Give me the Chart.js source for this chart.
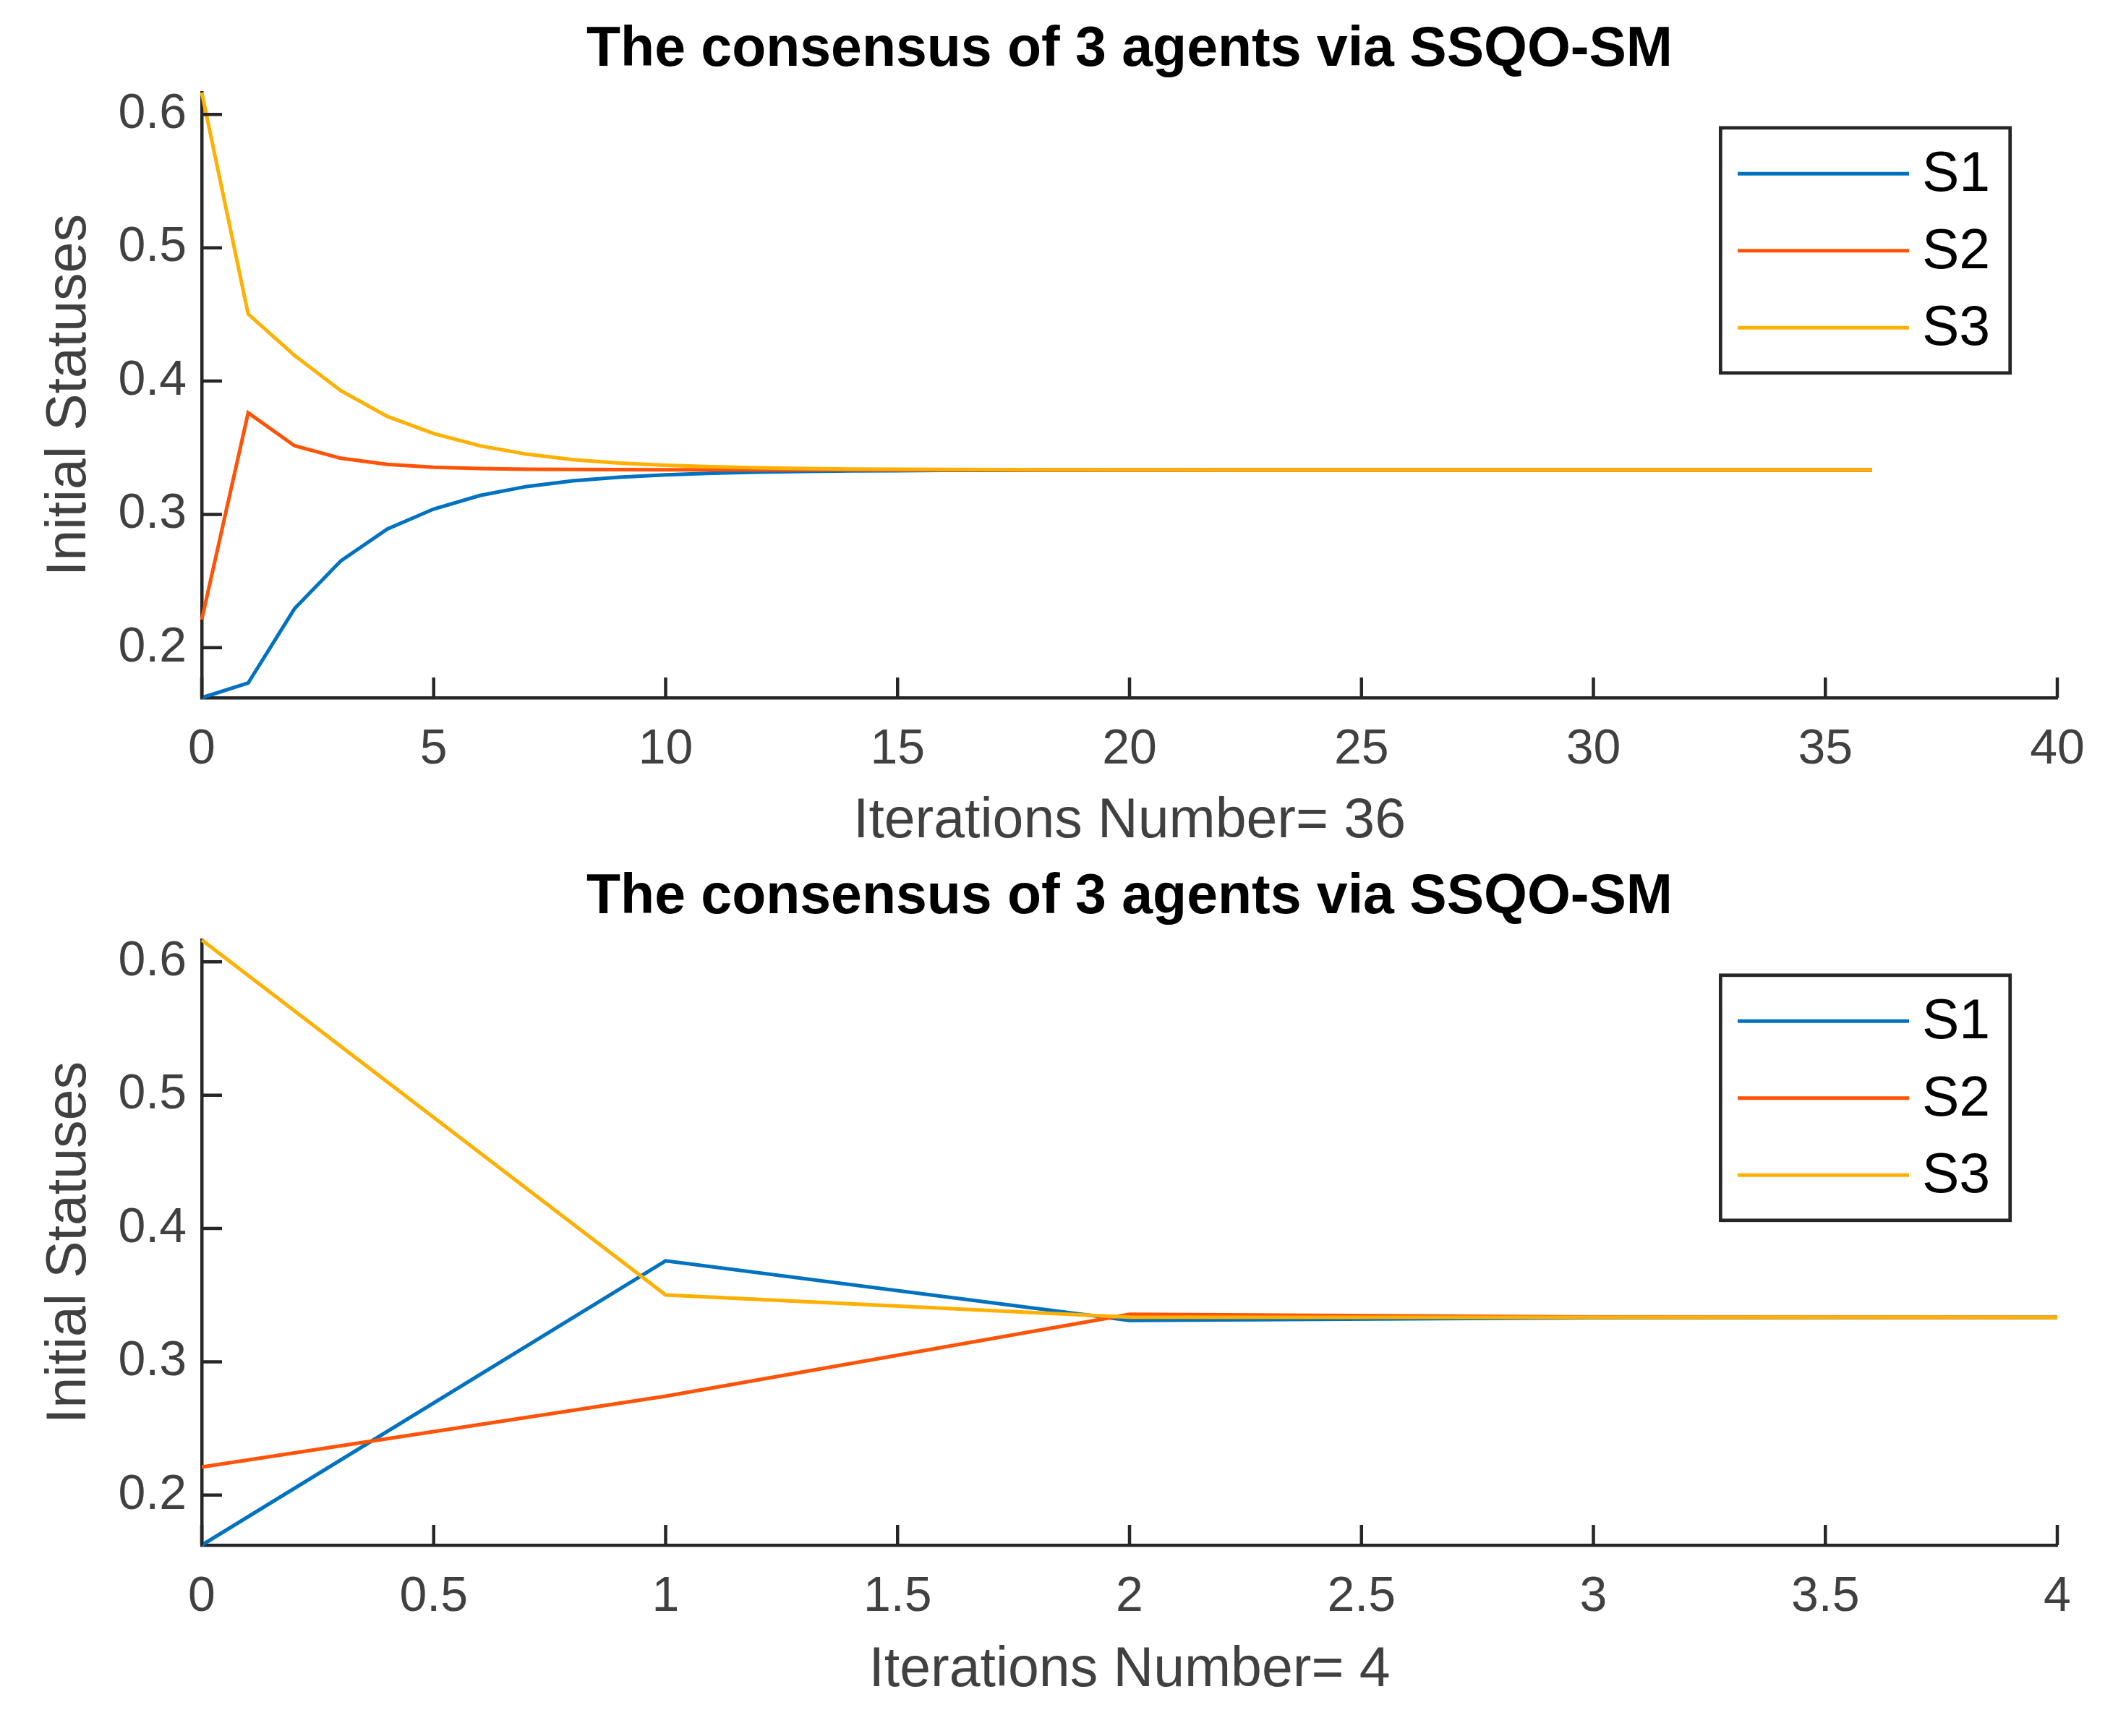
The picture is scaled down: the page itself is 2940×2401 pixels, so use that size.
<!DOCTYPE html>
<html>
<head>
<meta charset="utf-8">
<script src="https://cdn.jsdelivr.net/npm/chart.js@4.4.0/dist/chart.umd.min.js"></script>
<style>
  body { margin: 0; background: #fff; width: 2940px; overflow: hidden; }
  canvas { display: block; }
</style>
</head>
<body>
<canvas id="topChart" width="2940" height="1200"></canvas>
<canvas id="bottomChart" width="2940" height="1201"></canvas>
<script>
// values
const seriesNames = ["S1", "S2", "S3"];

const iterTop = [0, 1, 2, 3, 4, 5, 6, 7, 8, 9, 10, 11, 12, 13, 14, 15, 16, 17, 18,
  19, 20, 21, 22, 23, 24, 25, 26, 27, 28, 29, 30, 31, 32, 33, 34, 35, 36];
const s1Top = [0.1625, 0.1735, 0.2293, 0.2652, 0.2890, 0.3040, 0.3142, 0.3209, 0.3252, 0.3279,
  0.3297, 0.3309, 0.3317, 0.3322, 0.3326, 0.3328, 0.3330, 0.3331, 0.3332, 0.3332,
  0.3333, 0.3333, 0.3333, 0.3333, 0.3333, 0.3333, 0.3333, 0.3333, 0.3333, 0.3333,
  0.3333, 0.3333, 0.3333, 0.3333, 0.3333, 0.3333, 0.3333];
const s2Top = [0.2211, 0.3762, 0.3515, 0.3421, 0.3375, 0.3354, 0.3344, 0.3339, 0.3337, 0.3336,
  0.3335, 0.3334, 0.3334, 0.3334, 0.3334, 0.3333, 0.3333, 0.3333, 0.3333, 0.3333,
  0.3333, 0.3333, 0.3333, 0.3333, 0.3333, 0.3333, 0.3333, 0.3333, 0.3333, 0.3333,
  0.3333, 0.3333, 0.3333, 0.3333, 0.3333, 0.3333, 0.3333];
const s3Top = [0.6164, 0.4503, 0.4192, 0.3927, 0.3735, 0.3606, 0.3514, 0.3452, 0.3411, 0.3385,
  0.3368, 0.3357, 0.3349, 0.3344, 0.3340, 0.3339, 0.3337, 0.3336, 0.3335, 0.3335,
  0.3334, 0.3334, 0.3333, 0.3333, 0.3333, 0.3333, 0.3333, 0.3333, 0.3333, 0.3333,
  0.3333, 0.3333, 0.3333, 0.3333, 0.3333, 0.3333, 0.3333];

const iterBottom = [0, 1, 2, 3, 4];
const s1Bottom = [0.1625, 0.3757, 0.3310, 0.3331, 0.3333];
const s2Bottom = [0.2211, 0.2742, 0.3356, 0.3336, 0.3333];
const s3Bottom = [0.6164, 0.3501, 0.3334, 0.3333, 0.3333];

const yTicks = [0.2, 0.3, 0.4, 0.5, 0.6];
const xTicksTop = [0, 5, 10, 15, 20, 25, 30, 35, 40];
const xTicksBottom = [0, 0.5, 1, 1.5, 2, 2.5, 3, 3.5, 4];
const yMin = 0.1625, yMax = 0.6164;

const colors = ["#0072C0", "#FF5408", "#FFB000"];
const axisColor = "#262626";
const textColor = "#404040";
const fontFamily = "'Liberation Sans', Arial, Helvetica, sans-serif";

Chart.defaults.font.family = fontFamily;

function pairs(xs, ys) {
  return xs.map((x, i) => ({x: x, y: ys[i]}));
}

// centre the title over the plot area, like MATLAB does
const titleOverPlot = {
  id: 'titleOverPlot',
  afterLayout(chart) {
    const t = chart.titleBlock;
    if (t) {
      t.left = chart.chartArea.left;
      t.right = chart.chartArea.right;
      t.width = t.right - t.left;
    }
  }
};

// MATLAB style ticks pointing into the plot
const innerTicks = {
  id: 'innerTicks',
  afterDatasetsDraw(chart) {
    const {ctx, chartArea: a, scales: {x, y}} = chart;
    const len = 28;
    ctx.save();
    ctx.strokeStyle = axisColor;
    ctx.lineWidth = 4.5;
    ctx.beginPath();
    x.ticks.forEach(t => {
      const px = x.getPixelForValue(t.value);
      ctx.moveTo(px, a.bottom);
      ctx.lineTo(px, a.bottom - len);
    });
    y.ticks.forEach(t => {
      const py = y.getPixelForValue(t.value);
      ctx.moveTo(a.left, py);
      ctx.lineTo(a.left + len, py);
    });
    ctx.stroke();
    ctx.restore();
  }
};

// boxed legend in the upper right corner
const boxLegend = {
  id: 'boxLegend',
  afterDraw(chart) {
    const {ctx, chartArea: a} = chart;
    const left = a.right - 465.7, top = a.top + 48.8;
    const w = 400.4, h = 339;
    ctx.save();
    ctx.fillStyle = '#fff';
    ctx.fillRect(left, top, w, h);
    ctx.strokeStyle = axisColor;
    ctx.lineWidth = 4.7;
    ctx.strokeRect(left, top, w, h);
    ctx.font = '77px ' + fontFamily;
    ctx.textBaseline = 'middle';
    ctx.textAlign = 'left';
    chart.data.datasets.forEach((ds, i) => {
      const yy = top + 63.4 + i * 106.5;
      ctx.strokeStyle = ds.borderColor;
      ctx.lineWidth = 5;
      ctx.beginPath();
      ctx.moveTo(left + 23.7, yy);
      ctx.lineTo(left + 260.7, yy);
      ctx.stroke();
      ctx.fillStyle = '#000';
      ctx.fillText(ds.label, left + 278.7, yy + 3);
    });
    ctx.restore();
  }
};

function makeChart(canvasId, xs, s1, s2, s3, xTicks, xMax, xLabel, titlePad, xHeight, xTitlePad) {
  const allSeries = [s1, s2, s3];
  return new Chart(document.getElementById(canvasId), {
    type: 'line',
    data: {
      datasets: allSeries.map((s, i) => ({
        label: seriesNames[i],
        data: pairs(xs, s),
        borderColor: colors[i],
        backgroundColor: colors[i],
        borderWidth: 5,
        pointRadius: 0,
        tension: 0,
        clip: false,
        order: 2 - i
      }))
    },
    options: {
      responsive: false,
      devicePixelRatio: 1,
      animation: false,
      layout: {padding: {left: 0, right: 95, top: 0, bottom: 0}},
      plugins: {
        legend: {display: false},
        tooltip: {enabled: false},
        title: {
          display: true,
          text: 'The consensus of 3 agents via SSQO-SM',
          color: '#000',
          font: {size: 77, weight: 'bold', lineHeight: 1},
          padding: titlePad
        }
      },
      scales: {
        x: {
          type: 'linear',
          min: 0,
          max: xMax,
          afterBuildTicks: s => { s.ticks = xTicks.map(v => ({value: v})); },
          afterFit: s => { s.height = xHeight; },
          grid: {display: false, drawTicks: false},
          border: {display: true, color: axisColor, width: 4.5},
          ticks: {
            color: textColor,
            font: {size: 68, lineHeight: 1.2},
            padding: 31,
            maxRotation: 0,
            autoSkip: false,
            callback: v => String(v)
          },
          title: {
            display: true,
            text: xLabel,
            color: textColor,
            font: {size: 77, lineHeight: 1.2},
            padding: {top: 0, bottom: xTitlePad}
          }
        },
        y: {
          type: 'linear',
          min: yMin,
          max: yMax,
          afterBuildTicks: s => { s.ticks = yTicks.map(v => ({value: v})); },
          afterFit: s => { s.width = 279; },
          grid: {display: false, drawTicks: false},
          border: {display: true, color: axisColor, width: 4.5},
          ticks: {
            color: textColor,
            font: {size: 68, lineHeight: 1.2},
            padding: 21,
            autoSkip: false,
            callback: v => v.toFixed(1)
          },
          title: {
            display: true,
            text: 'Initial Statuses',
            color: textColor,
            font: {size: 77, lineHeight: 1.2},
            padding: {top: 51, bottom: 0}
          }
        }
      }
    },
    plugins: [titleOverPlot, innerTicks, boxLegend]
  });
}

makeChart('topChart', iterTop, s1Top, s2Top, s3Top, xTicksTop, 40,
  'Iterations Number= 36', {top: 31.1, bottom: 19.9}, 235, 17.2);
makeChart('bottomChart', iterBottom, s1Bottom, s2Bottom, s3Bottom, xTicksBottom, 4,
  'Iterations Number= 4', {top: 3.1, bottom: 19.9}, 264, 44.2);
</script>
</body>
</html>
